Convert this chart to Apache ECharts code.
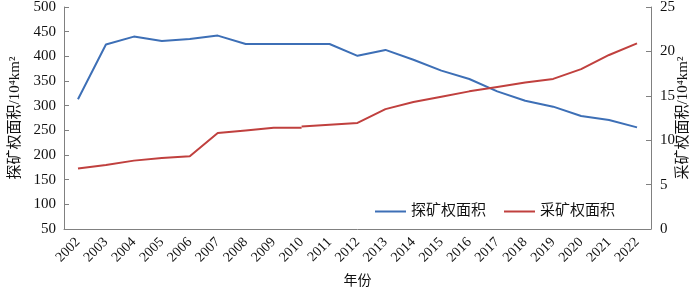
<!DOCTYPE html>
<html>
<head>
<meta charset="utf-8">
<script src="https://cdn.jsdelivr.net/npm/echarts@6/dist/echarts.min.js"></script>
<style>
  html, body { margin: 0; padding: 0; background: #fff; }
  #chart { width: 700px; height: 288px; }
</style>
</head>
<body>
<div id="chart"></div>
<script>
const years = ['2002', '2003', '2004', '2005', '2006', '2007', '2008', '2009', '2010', '2011', '2012',
  '2013', '2014', '2015', '2016', '2017', '2018', '2019', '2020', '2021', '2022']
// 探矿权面积 (left axis)
const exploration = [313, 424, 440, 431, 435, 442, 425, 425, 425, 425, 401,
  413, 393, 371, 354, 329, 310, 298, 279, 271, 256]
// 采矿权面积 (right axis), the line breaks at 2010
const miningBefore = [6.8, 7.2, 7.7, 8.0, 8.2, 10.8, 11.1, 11.4, 11.4, '-', '-',
  '-', '-', '-', '-', '-', '-', '-', '-', '-', '-']
const miningAfter = ['-', '-', '-', '-', '-', '-', '-', '-', 11.55, 11.75, 11.95,
  13.5, 14.3, 14.9, 15.5, 16.0, 16.5, 16.9, 18.0, 19.6, 20.9]

const font = "'Liberation Serif', 'Noto Sans CJK SC', serif"
const axisGray = '#808080'
const blue = '#3d6fb6'
const red = '#c0403e'

const mChart = echarts.init(document.getElementById('chart'))

const option = {
  animation: false,
  grid: { left: 64, right: 49, top: 7, bottom: 59, containLabel: false, outerBoundsMode: 'none' },
  legend: {
    left: 370,
    top: 199,
    itemWidth: 31,
    itemHeight: 2,
    itemGap: 18,
    icon: 'rect',
    textStyle: { fontFamily: font, fontSize: 15, color: '#111' },
    data: ['探矿权面积', '采矿权面积']
  },
  xAxis: [
    {
      type: 'category',
      data: years,
      boundaryGap: true,
      name: '年份',
      nameLocation: 'middle',
      nameGap: 45,
      nameMoveOverlap: false,
      nameTextStyle: { fontFamily: font, fontSize: 14, color: '#111' },
      axisLine: { lineStyle: { color: axisGray } },
      axisTick: { inside: true, length: 4, lineStyle: { color: axisGray } },
      axisLabel: {
        rotate: 45,
        interval: 0,
        margin: 11,
        fontFamily: font,
        fontSize: 14,
        color: '#111'
      }
    },
    {
      // only draws the ticks at the category centres
      type: 'category',
      data: years,
      position: 'bottom',
      boundaryGap: true,
      axisLine: { show: false },
      axisTick: { inside: true, length: 4, alignWithLabel: true, lineStyle: { color: axisGray } },
      axisLabel: { show: false }
    }
  ],
  yAxis: [
    {
      type: 'value',
      min: 50,
      max: 500,
      interval: 50,
      name: '探矿权面积/10⁴km²',
      nameLocation: 'middle',
      nameRotate: 90,
      nameGap: 41,
      nameMoveOverlap: false,
      nameTextStyle: { fontFamily: font, fontSize: 15, color: '#111' },
      splitLine: { show: false },
      axisLine: { show: true, lineStyle: { color: axisGray } },
      axisTick: { show: true, inside: true, length: 5, lineStyle: { color: axisGray } },
      axisLabel: { margin: 8, fontFamily: font, fontSize: 15, color: '#111' }
    },
    {
      type: 'value',
      min: 0,
      max: 25,
      interval: 5,
      name: '采矿权面积/10⁴km²',
      nameLocation: 'middle',
      nameRotate: 90,
      nameGap: 25,
      nameMoveOverlap: false,
      nameTextStyle: { fontFamily: font, fontSize: 15, color: '#111' },
      splitLine: { show: false },
      axisLine: { show: true, lineStyle: { color: axisGray } },
      axisTick: { show: true, inside: true, length: 5, lineStyle: { color: axisGray } },
      axisLabel: { margin: 9, fontFamily: font, fontSize: 15, color: '#111' }
    }
  ],
  series: [
    {
      name: '探矿权面积',
      type: 'line',
      yAxisIndex: 0,
      data: exploration,
      symbol: 'none',
      lineStyle: { color: blue, width: 2 },
      itemStyle: { color: blue }
    },
    {
      name: '采矿权面积',
      type: 'line',
      yAxisIndex: 1,
      data: miningBefore,
      symbol: 'none',
      lineStyle: { color: red, width: 2 },
      itemStyle: { color: red }
    },
    {
      name: '采矿权面积',
      type: 'line',
      yAxisIndex: 1,
      data: miningAfter,
      symbol: 'none',
      lineStyle: { color: red, width: 2 },
      itemStyle: { color: red }
    }
  ]
}

mChart.setOption(option)
</script>
</body>
</html>
